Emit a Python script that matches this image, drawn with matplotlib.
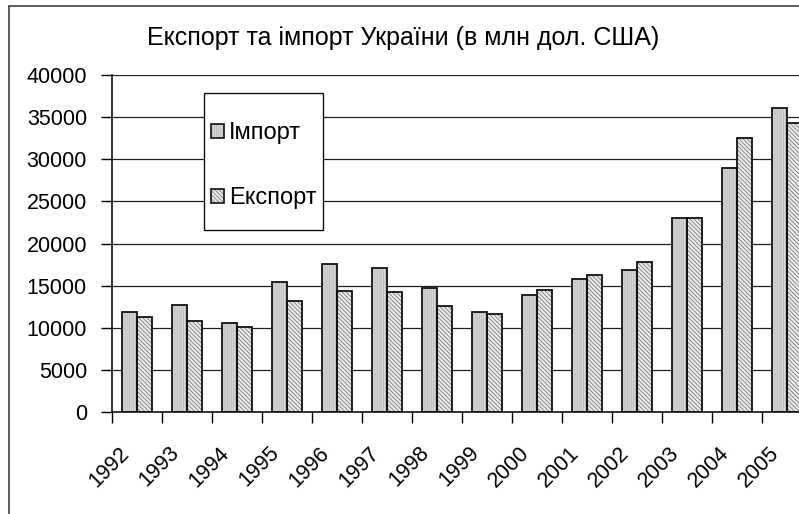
import matplotlib
matplotlib.use('Agg')
import numpy as np
import matplotlib.pyplot as plt
from matplotlib.patches import Rectangle, Patch
from matplotlib.transforms import ScaledTranslation

plt.rcParams['font.family'] = ['Liberation Sans', 'DejaVu Sans']
plt.rcParams['hatch.linewidth'] = 0.6

years = ['1992', '1993', '1994', '1995', '1996', '1997', '1998',
         '1999', '2000', '2001', '2002', '2003', '2004', '2005']
imports = [11900, 12660, 10600, 15480, 17600, 17100, 14700,
           11830, 13890, 15780, 16890, 23020, 29000, 36050]
exports = [11300, 10840, 10130, 13130, 14400, 14230, 12640,
           11580, 14520, 16260, 17840, 23070, 32560, 34340]
yticks = [0, 5000, 10000, 15000, 20000, 25000, 30000, 35000, 40000]

W, H = 799, 514
fig = plt.figure(figsize=(W / 100, H / 100), dpi=100)
ax = fig.add_axes([112 / W, (H - 412) / H, 700 / W, 337 / H])

x = np.arange(len(years))
bw = 0.294
imp_fill, imp_hcol, imp_hatch = '#bdbdbd', '#e2e2e2', '||||||||'
exp_fill, exp_hcol, exp_hatch = '#ececec', '#7a7a7a', '\\\\\\\\\\\\\\\\'

# hatched fills first, then black outlines on top
ax.bar(x - bw / 2, imports, bw, color=imp_fill, edgecolor=imp_hcol,
       hatch=imp_hatch, linewidth=0, zorder=2)
ax.bar(x + bw / 2, exports, bw, color=exp_fill, edgecolor=exp_hcol,
       hatch=exp_hatch, linewidth=0, zorder=2)
ax.bar(x - bw / 2, imports, bw, fill=False, edgecolor='#111111',
       linewidth=1.3, zorder=3)
ax.bar(x + bw / 2, exports, bw, fill=False, edgecolor='#111111',
       linewidth=1.3, zorder=3)

ax.set_xlim(-0.5, len(years) - 0.5)
ax.set_ylim(0, 40000)
ax.set_yticks(yticks)
ax.set_yticklabels([str(v) for v in yticks], fontsize=15.5)
ax.yaxis.grid(True, color='#202020', linewidth=0.9)
ax.set_axisbelow(True)

ax.set_xticks(np.arange(len(years) + 1) - 0.5)
ax.set_xticklabels([])
ax.set_xticks(x, minor=True)
ax.set_xticklabels(years, minor=True, rotation=45, ha='right',
                   rotation_mode='anchor', fontsize=15.5)
ax.tick_params(axis='x', which='minor', length=0, pad=22)
ax.tick_params(axis='x', which='major', length=8, width=1, direction='out')
ax.tick_params(axis='y', length=8, width=1, direction='out', pad=10)
shift = ScaledTranslation(-18 / 100, 0, fig.dpi_scale_trans)
for lbl in ax.get_xticklabels(minor=True):
    lbl.set_transform(lbl.get_transform() + shift)

for s in ['top', 'right']:
    ax.spines[s].set_visible(False)
for s in ['left', 'bottom']:
    ax.spines[s].set_linewidth(1.2)
    ax.spines[s].set_color('#111111')

fig.text(403 / W, 1 - 38 / H, 'Експорт та імпорт України (в млн дол. США)',
         ha='center', va='center', fontsize=18)

# legend: frame drawn separately (tall box with small side padding)
ax.add_patch(Rectangle((204 / W, 1 - 230 / H), 119 / W, 137 / H,
                       facecolor='white', edgecolor='#111111', linewidth=1,
                       transform=fig.transFigure, clip_on=False, zorder=4))
handles = [(Patch(facecolor=imp_fill, edgecolor=imp_hcol, hatch=imp_hatch, lw=0),
            Patch(fill=False, edgecolor='#111111', lw=1.2)),
           (Patch(facecolor=exp_fill, edgecolor=exp_hcol, hatch=exp_hatch, lw=0),
            Patch(fill=False, edgecolor='#111111', lw=1.2))]
leg = ax.legend(handles, ['Імпорт', 'Експорт'], loc='upper left',
                bbox_to_anchor=(211 / W, 1 - 122 / H), bbox_transform=fig.transFigure,
                borderaxespad=0, borderpad=0, fontsize=17, frameon=False,
                handlelength=0.55, handleheight=0.55, handletextpad=0.2,
                labelspacing=1.83)
leg.set_zorder(6)

fig.patches.append(Rectangle((9 / W, -0.1), 1.2, 1.1 - 6 / H, fill=False,
                             edgecolor='#404040', linewidth=1.2,
                             transform=fig.transFigure, figure=fig))

fig.savefig('out.png', dpi=100)
